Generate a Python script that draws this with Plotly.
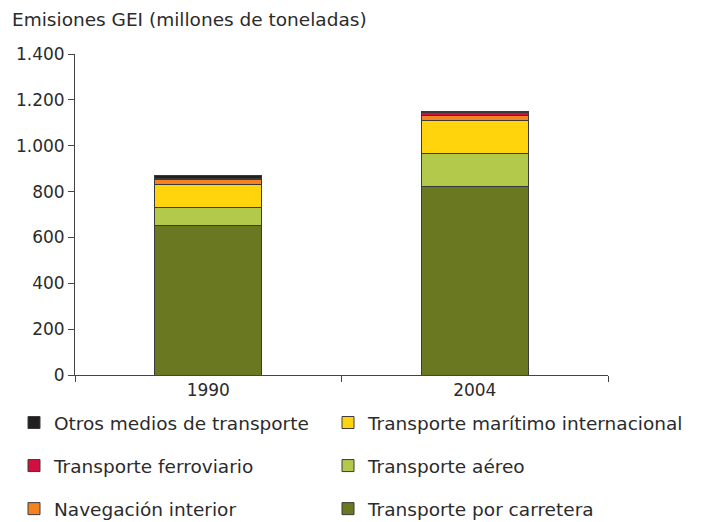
import plotly.graph_objects as go

years = ["1990", "2004"]
series_names = [
    "Transporte por carretera",
    "Transporte aéreo",
    "Transporte marítimo internacional",
    "Navegación interior",
    "Transporte ferroviario",
    "Otros medios de transporte",
]
road = [650, 824]
air = [80, 140]
maritime = [103, 148]
inland = [18, 21]
rail = [8, 10]
other = [12, 8]
colors = ["#6a7821", "#b3c94c", "#ffd40d", "#f58220", "#d20f41", "#231f20"]
# legend placement: (legend id, rank within column)
legend_slots = [("legend2", 3), ("legend2", 2), ("legend2", 1),
                ("legend", 3), ("legend", 2), ("legend", 1)]

values = [road, air, maritime, inland, rail, other]
font_family = "DejaVu Sans, Verdana, sans-serif"
text_color = "#2b2b2b"

# the page body has an 8px default margin, so the figure is drawn 8px smaller
W, H = 694, 514

fig = go.Figure()
for name, vals, col, (lg, rank) in zip(series_names, values, colors, legend_slots):
    fig.add_trace(go.Bar(
        x=years, y=vals, name=name,
        marker=dict(color=col, line=dict(color="#3a3a3a", width=1)),
        legend=lg, legendrank=rank, legendgroup=name,
    ))

leg_common = dict(
    orientation="v", traceorder="grouped", tracegroupgap=16,
    font=dict(family=font_family, size=18.5, color=text_color),
    bgcolor="rgba(0,0,0,0)", yanchor="top", xanchor="left",
    xref="container", yref="container",
    itemclick=False, itemdoubleclick=False,
)

fig.update_layout(
    width=W, height=H,
    barmode="stack", bargap=0.6,
    separators=",.",
    paper_bgcolor="white", plot_bgcolor="white",
    font=dict(family=font_family, size=17, color=text_color),
    margin=dict(l=67, r=94, t=46, b=147, autoexpand=False),
    legend=dict(x=6 / W, y=1 - 396 / H, **leg_common),
    legend2=dict(x=320 / W, y=1 - 396 / H, **leg_common),
    title=dict(
        text="Emisiones GEI (millones de toneladas)",
        xref="container", yref="container",
        x=4 / W, y=1 - 12 / H, xanchor="left", yanchor="middle",
        font=dict(family=font_family, size=18.5, color=text_color),
    ),
    xaxis=dict(
        showline=True, linecolor="#444", linewidth=1,
        ticks="outside", tickson="boundaries", ticklen=6, tickcolor="#444",
        showgrid=False, zeroline=False,
        tickfont=dict(size=17),
    ),
    yaxis=dict(
        range=[0, 1400], dtick=200, tickformat=",d",
        showline=True, linecolor="#444", linewidth=1,
        ticks="outside", ticklen=6, tickcolor="#444",
        showgrid=False, zeroline=False,
        tickfont=dict(size=17),
    ),
)

fig.write_html("out.html")
